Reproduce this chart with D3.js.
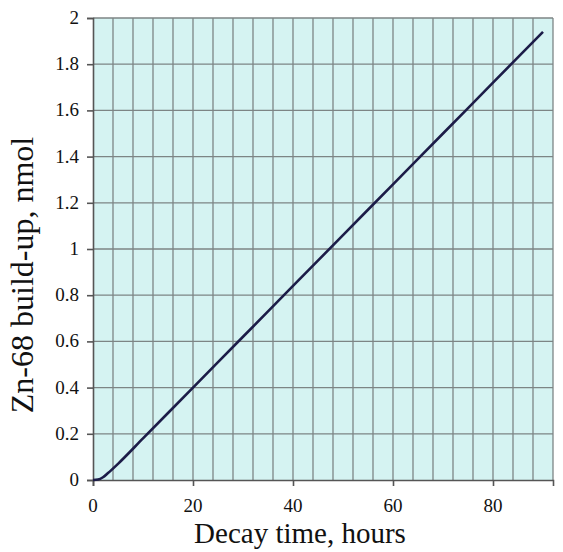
<!DOCTYPE html>
<html>
<head>
<meta charset="utf-8">
<script src="https://cdn.jsdelivr.net/npm/d3@7"></script>
<style>
  body { margin: 0; background: #fff; }
  svg text { font-family: "Liberation Serif", "Times New Roman", serif; fill: #111; }
</style>
</head>
<body>
<div id="chart"></div>
<script>
// decay time, hours
var hours = [0, 1, 2, 3, 5, 10, 20, 30, 40, 50, 60, 70, 80, 90]
// Zn-68 build-up, nmol
var buildup = [0, 0.002, 0.012, 0.03, 0.07, 0.18, 0.40, 0.62, 0.84, 1.06, 1.28, 1.50, 1.72, 1.94]
var xTicks = [0, 20, 40, 60, 80]
var yTicks = [0, 0.2, 0.4, 0.6, 0.8, 1, 1.2, 1.4, 1.6, 1.8, 2]

var width = 563, height = 552
var margin = {left: 93, right: 10, top: 18, bottom: 72}

var svg = d3.select("#chart").append("svg")
  .attr("width", width)
  .attr("height", height)

var x = d3.scaleLinear().domain([0, 92]).range([margin.left, width - margin.right])
var y = d3.scaleLinear().domain([0, 2]).range([height - margin.bottom, margin.top])

// plot background
svg.append("rect")
  .attr("x", x(0))
  .attr("y", y(2))
  .attr("width", x(92) - x(0))
  .attr("height", y(0) - y(2))
  .attr("fill", "#d5f3f2")

// vertical grid every 4 hours
svg.append("g").selectAll("line")
  .data(d3.range(4, 93, 4))
  .enter().append("line")
    .attr("x1", function (d) { return x(d) })
    .attr("x2", function (d) { return x(d) })
    .attr("y1", y(0))
    .attr("y2", y(2))
    .attr("stroke", "#7d8585")
    .attr("stroke-width", 1.3)

// horizontal grid
svg.append("g").selectAll("line")
  .data(yTicks.slice(1))
  .enter().append("line")
    .attr("x1", x(0))
    .attr("x2", x(92))
    .attr("y1", function (d) { return y(d) })
    .attr("y2", function (d) { return y(d) })
    .attr("stroke", "#7d8585")
    .attr("stroke-width", 1.3)

// axes (tick marks only, labels drawn below)
svg.append("g")
  .attr("transform", "translate(0," + y(0) + ")")
  .call(d3.axisBottom(x).tickValues(xTicks).tickSize(6).tickFormat(""))
svg.append("g")
  .attr("transform", "translate(" + x(0) + ",0)")
  .call(d3.axisLeft(y).tickValues(yTicks).tickSize(6).tickFormat(""))

svg.selectAll(".domain").attr("stroke", "#555").attr("stroke-width", 1.6)
svg.selectAll(".tick line").attr("stroke", "#555").attr("stroke-width", 1.6)

// tick labels
svg.append("g").selectAll("text")
  .data(xTicks)
  .enter().append("text")
    .attr("x", function (d) { return x(d) })
    .attr("y", y(0) + 32)
    .attr("text-anchor", "middle")
    .style("font-size", "19px")
    .text(function (d) { return d })

svg.append("g").selectAll("text")
  .data(yTicks)
  .enter().append("text")
    .attr("x", x(0) - 14)
    .attr("y", function (d) { return y(d) + 6 })
    .attr("text-anchor", "end")
    .style("font-size", "19px")
    .text(function (d) { return String(+d.toFixed(1)) })

// data line
var line = d3.line()
  .x(function (d, i) { return x(hours[i]) })
  .y(function (d) { return y(d) })
  .curve(d3.curveMonotoneX)

svg.append("path")
  .datum(buildup)
  .attr("d", line)
  .attr("fill", "none")
  .attr("stroke", "#1c1c48")
  .attr("stroke-width", 2.6)

// axis titles
svg.append("text")
  .attr("x", 300)
  .attr("y", 543)
  .attr("text-anchor", "middle")
  .style("font-size", "29px")
  .text("Decay time, hours")

svg.append("text")
  .attr("transform", "translate(33,275) rotate(-90)")
  .attr("text-anchor", "middle")
  .style("font-size", "32px")
  .text("Zn-68 build-up, nmol")
</script>
</body>
</html>
